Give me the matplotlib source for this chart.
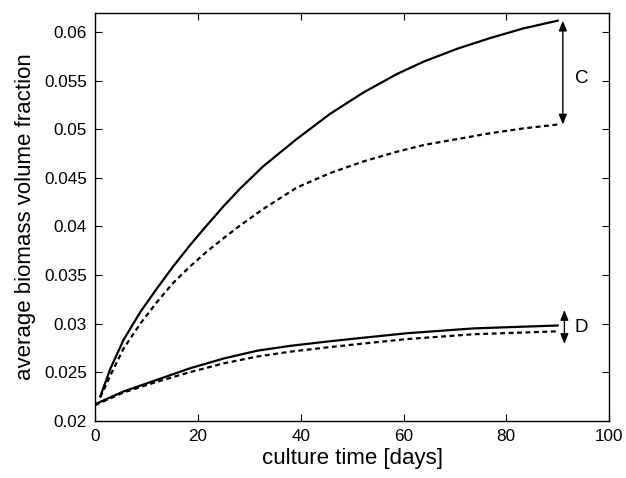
import matplotlib
matplotlib.use("Agg")
import matplotlib.pyplot as plt

plt.rcParams['font.family'] = ['Liberation Sans', 'DejaVu Sans']

# C curves
c_x = [1, 3, 5.5, 8.8, 12, 15.2, 18.5, 21.7, 25, 28.2, 32.7, 39.2, 45.7, 52.2,
       58.7, 64, 70.4, 76.8, 83.3, 90]
c_solid = [0.0225, 0.0254, 0.0283, 0.0312, 0.0336, 0.0359, 0.0381, 0.0401, 0.0421,
           0.0439, 0.0462, 0.0490, 0.0516, 0.0538, 0.0557, 0.0570, 0.0583, 0.0594,
           0.0604, 0.0612]
c_dash = [0.0224, 0.0247, 0.0274, 0.0300, 0.0322, 0.0342, 0.0359, 0.0374, 0.0388,
          0.0401, 0.0418, 0.0440, 0.0455, 0.0467, 0.0477, 0.0484, 0.0490, 0.0496,
          0.0501, 0.0505]

# D curves
d_x = [0, 5.5, 12, 18.5, 25, 31.5, 37.9, 44.4, 49.6, 60.6, 73.6, 90]
d_solid = [0.0217, 0.0230, 0.0242, 0.0254, 0.0264, 0.0272, 0.0277, 0.0281, 0.0284,
           0.0290, 0.0295, 0.0298]
d_dash = [0.0216, 0.0229, 0.0240, 0.0250, 0.0259, 0.0266, 0.0271, 0.0275, 0.0278,
          0.0284, 0.0289, 0.0292]

x_ticks = [0, 20, 40, 60, 80, 100]
y_ticks = [0.02, 0.025, 0.03, 0.035, 0.04, 0.045, 0.05, 0.055, 0.06]
y_ticklabels = ['0.02', '0.025', '0.03', '0.035', '0.04', '0.045', '0.05', '0.055', '0.06']

fig = plt.figure(figsize=(6.26, 4.78), dpi=100)
ax = fig.add_axes([0.152, 0.12, 0.821, 0.853])

dash = (0, (2.2, 1.6))
ax.plot(c_x, c_solid, color='black', lw=1.6, solid_joinstyle='round')
ax.plot(c_x, c_dash, color='black', lw=1.6, linestyle=dash)
ax.plot(d_x, d_solid, color='black', lw=1.6, solid_joinstyle='round')
ax.plot(d_x, d_dash, color='black', lw=1.6, linestyle=dash)

arrow_props = dict(arrowstyle='<|-|>,head_length=0.5,head_width=0.2', color='black',
                   lw=1.0, mutation_scale=12, shrinkA=0, shrinkB=0)
ax.annotate('', xy=(91.0, c_solid[-1]), xytext=(91.0, c_dash[-1]), arrowprops=arrow_props)
ax.text(94.6, 0.0552, 'C', fontsize=13.5, ha='center', va='center')

ax.annotate('', xy=(91.3, 0.0314), xytext=(91.3, 0.0279), arrowprops=arrow_props)
ax.text(94.5, 0.0296, 'D', fontsize=13.5, ha='center', va='center')

ax.set_xlim(0, 100)
ax.set_ylim(0.02, 0.062)
ax.set_xticks(x_ticks)
ax.set_yticks(y_ticks)
ax.set_yticklabels(y_ticklabels)
ax.tick_params(direction='in', top=True, right=True, labelsize=12.3, length=5, width=0.8)
ax.tick_params(axis='x', pad=6)
ax.tick_params(axis='y', pad=6)
for s in ax.spines.values():
    s.set_linewidth(1.0)

ax.set_xlabel('culture time [days]', fontsize=16, labelpad=3)
ax.set_ylabel('average biomass volume fraction', fontsize=16, labelpad=6)

fig.savefig('out.png', dpi=100)
